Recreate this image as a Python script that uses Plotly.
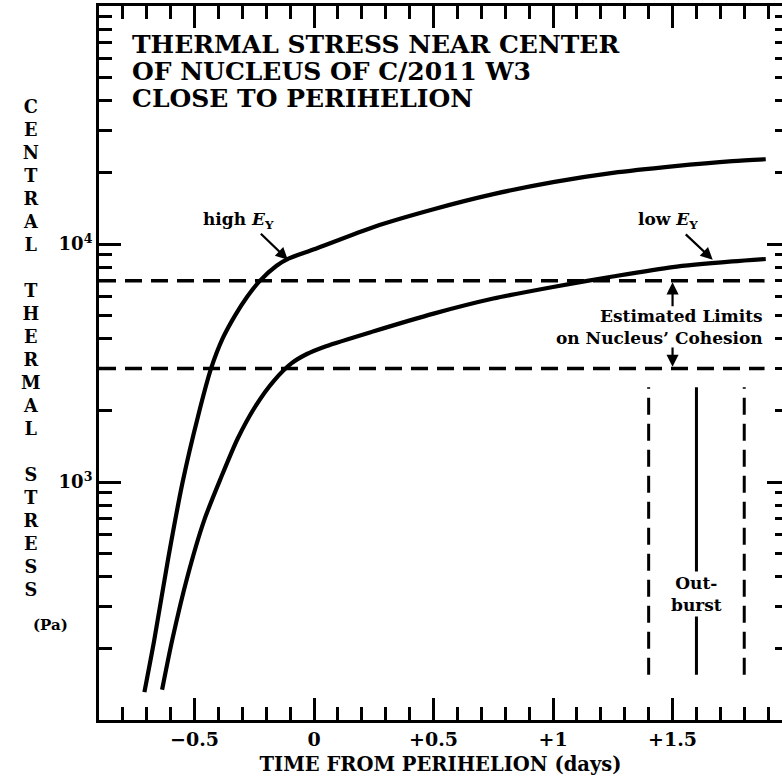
import numpy as np
import plotly.graph_objects as go

# Central thermal stress (Pa) versus time from perihelion (days)
t_high = [-0.71, -0.669, -0.61, -0.55, -0.485, -0.431, -0.383, -0.331, -0.28, -0.227,
          -0.157, -0.105, 0.0, 0.25, 0.5, 0.75, 1.0, 1.25, 1.5, 1.75, 1.89]
s_high = [131, 216, 480, 1000, 1900, 3000, 4000, 5000, 6000, 7000,
          8100, 8700, 9500, 11800, 14000, 16200, 18200, 19900, 21200, 22300, 22700]

t_low = [-0.636, -0.594, -0.53, -0.46, -0.39, -0.32, -0.243, -0.17, -0.095, -0.03,
         0.05, 0.25, 0.5, 0.75, 1.0, 1.25, 1.5, 1.75, 1.89]
s_low = [134, 216, 400, 690, 1040, 1520, 2100, 2650, 3150, 3450,
         3720, 4300, 5100, 5900, 6600, 7300, 8000, 8450, 8650]

# Estimated limits on the nucleus' cohesion (Pa)
cohesion_limits = [3000, 7000]
limits_t_span = [-0.9, 1.885]

# Outburst timing (days): start, peak, end
outburst_t = [1.4, 1.6, 1.8]
outburst_s_span = [155, 2500]

x_tickvals = [-0.5, 0, 0.5, 1, 1.5]
x_ticktext = ["\u22120.5", "0", "+0.5", "+1", "+1.5"]
y_tickvals = [1e3, 1e4]
y_ticktext = ["10<sup>3</sup>", "10<sup>4</sup>"]

x_minor = [round(v, 1) for v in np.arange(-0.9, 2.0, 0.1)]
y_minor = [m * 10 ** d for d in (2, 3, 4) for m in range(2, 10)]

FONT = "DejaVu Serif"
lg = np.log10

fig = go.Figure()

# stress curves
for t, s in ((t_high, s_high), (t_low, s_low)):
    fig.add_trace(go.Scatter(x=t, y=s, mode="lines",
                             line=dict(color="black", width=4.2, shape="spline", smoothing=0.7),
                             hoverinfo="skip"))

# cohesion limits
for lim in cohesion_limits:
    fig.add_trace(go.Scatter(x=limits_t_span, y=[lim, lim], mode="lines",
                             line=dict(color="black", width=3.5, dash="17px,9px"),
                             hoverinfo="skip"))

# outburst markers
for i, t in enumerate(outburst_t):
    fig.add_trace(go.Scatter(x=[t, t], y=outburst_s_span, mode="lines",
                             line=dict(color="black", width=3,
                                       dash="solid" if i == 1 else "17px,9px"),
                             hoverinfo="skip"))

# right-hand axis carrying the mirrored y ticks
fig.add_trace(go.Scatter(x=[], y=[], yaxis="y2", hoverinfo="skip"))

annotations = []
arrow_style = dict(showarrow=True, arrowhead=2, arrowsize=1.1, arrowwidth=2.2,
                   arrowcolor="black", text="", xref="x", yref="y", axref="x", ayref="y")

# title block
title_lines = ["THERMAL STRESS NEAR CENTER", "OF NUCLEUS OF C/2011 W3", "CLOSE TO PERIHELION"]
for i, line in enumerate(title_lines):
    annotations.append(dict(x=-0.772, y=4.839 - 0.1137 * i, xref="x", yref="y",
                            text=line, showarrow=False, xanchor="left", yanchor="middle",
                            font=dict(family=FONT, size=25, weight="bold")))

# curve labels
annotations.append(dict(x=-0.316, y=4.097, xref="x", yref="y",
                        text="high <i>E</i><sub>Y</sub>", showarrow=False,
                        font=dict(family=FONT, size=17, weight="bold")))
annotations.append(dict(x=-0.11, y=lg(8590), ax=-0.229, ay=lg(11190), **arrow_style))
annotations.append(dict(x=1.48, y=4.097, xref="x", yref="y",
                        text="low <i>E</i><sub>Y</sub>", showarrow=False,
                        font=dict(family=FONT, size=17, weight="bold")))
annotations.append(dict(x=1.668, y=lg(8590), ax=1.549, ay=lg(11130), **arrow_style))

# cohesion limit labels and arrows
annotations.append(dict(x=1.885, y=3.652, xref="x", yref="y",
                        text="Estimated Limits<br>on Nucleus\u2019 Cohesion",
                        showarrow=False, xanchor="right", align="right",
                        font=dict(family=FONT, size=17, weight="bold")))
annotations.append(dict(x=1.5, y=lg(6900), ax=1.5, ay=lg(5400), **arrow_style))
annotations.append(dict(x=1.5, y=lg(3050), ax=1.5, ay=lg(3730), **arrow_style))

# outburst label
annotations.append(dict(x=1.6, y=lg(340), xref="x", yref="y",
                        text="Out-<br>burst", showarrow=False, bgcolor="white",
                        font=dict(family=FONT, size=17, weight="bold")))

# stacked y-axis title
ylabel_words = ["CENTRAL", "THERMAL", "STRESS"]
ylabel = "<br>\u00a0<br>".join("<br>".join(w) for w in ylabel_words)
annotations.append(dict(x=-0.0996, y=0.521, xref="paper", yref="paper",
                        text=ylabel, showarrow=False, xanchor="center", yanchor="middle",
                        font=dict(family=FONT, size=17.7, weight="bold")))
annotations.append(dict(x=-0.0996, y=0.118, xref="paper", yref="paper",
                        text="(Pa)", showarrow=False,
                        font=dict(family=FONT, size=15, weight="bold")))

tick_common = dict(ticks="inside", tickwidth=3, tickcolor="black",
                   showgrid=False, zeroline=False)

fig.update_layout(
    width=782, height=779,
    margin=dict(l=99, r=0, t=6, b=59),
    plot_bgcolor="white", paper_bgcolor="white",
    showlegend=False,
    font=dict(family=FONT, size=18, color="black", weight="bold"),
    xaxis=dict(range=[-0.9, 1.958], tickmode="array", tickvals=x_tickvals, ticktext=x_ticktext,
               ticklen=22, showline=True, linewidth=3, linecolor="black", mirror="ticks",
               tickfont=dict(family=FONT, size=19, weight="bold"),
               minor=dict(tickmode="array", tickvals=x_minor, ticks="inside",
                          ticklen=13, tickwidth=3, tickcolor="black", showgrid=False),
               title=dict(text="TIME FROM PERIHELION (days)", standoff=9,
                          font=dict(family=FONT, size=19.5, weight="bold")),
               **tick_common),
    yaxis=dict(type="log", range=[2, 5], tickmode="array", tickvals=y_tickvals,
               ticktext=y_ticktext, ticklen=22, showline=True, linewidth=3,
               linecolor="black", tickfont=dict(family=FONT, size=18, weight="bold"),
               minor=dict(tickmode="array", tickvals=y_minor, ticks="inside",
                          ticklen=13, tickwidth=3, tickcolor="black", showgrid=False),
               **tick_common),
    yaxis2=dict(type="log", range=[2, 5], overlaying="y", side="right", anchor="x",
                tickmode="array", tickvals=y_tickvals, showticklabels=False,
                ticklen=15, showline=False,
                minor=dict(tickmode="array", tickvals=y_minor, ticks="inside",
                           ticklen=7, tickwidth=3, tickcolor="black", showgrid=False),
                **tick_common),
    annotations=annotations,
)

fig.write_html("out.html")
